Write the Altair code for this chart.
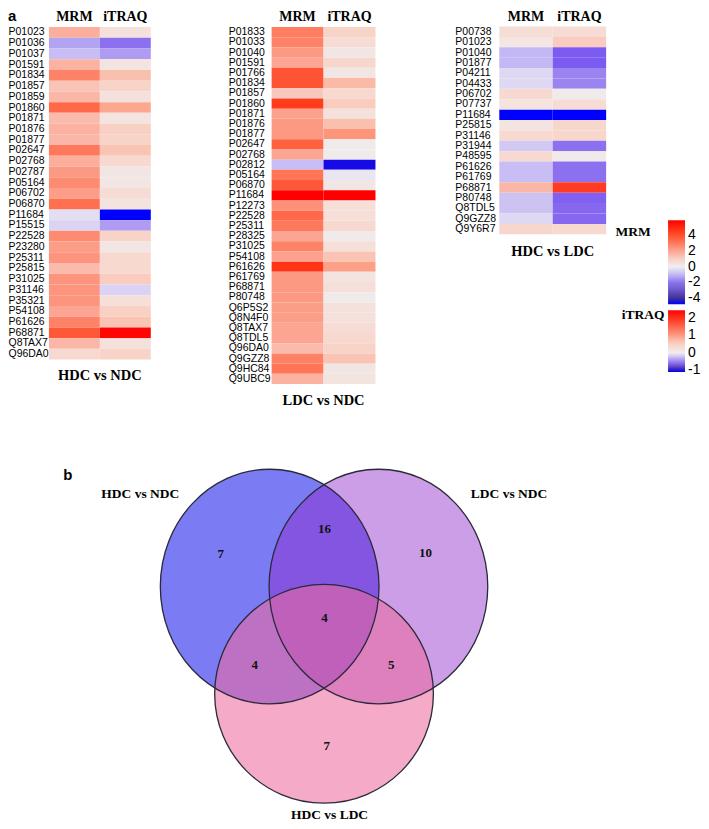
import altair as alt
import pandas as pd

SERIF = "Liberation Serif"
SANS = "Liberation Sans"

# ---------------- heatmap data ----------------
hn_proteins = ["P01023", "P01036", "P01037", "P01591", "P01834", "P01857", "P01859", "P01860",
               "P01871", "P01876", "P01877", "P02647", "P02768", "P02787", "P05164", "P06702",
               "P06870", "P11684", "P15515", "P22528", "P23280", "P25311", "P25815", "P31025",
               "P31146", "P35321", "P54108", "P61626", "P68871", "Q8TAX7", "Q96DA0"]
hn_mrm = [1.8, -1.3, -0.9, 1.7, 2.8, 1.3, 1.6, 3.4, 1.5, 1.7, 1.6, 3.0, 1.8, 2.3, 2.6, 2.2,
          3.2, -0.3, -0.5, 2.6, 2.2, 2.4, 1.5, 2.4, 2.4, 2.4, 2.0, 2.8, 3.8, 1.6, 0.7]
hn_itraq = [0.2, -0.6, -0.4, 0.15, 0.7, 0.45, 0.2, 0.9, 0.15, 0.5, 0.45, 0.65, 0.35, 0.1, 0.1, 0.3,
            0.15, -1.12, -0.4, 0.45, 0.1, 0.35, 0.35, 0.55, -0.15, 0.25, 0.5, 0.65, 2.4, 0.2, 0.45]

ln_proteins = ["P01833", "P01033", "P01040", "P01591", "P01766", "P01834", "P01857", "P01860",
               "P01871", "P01876", "P01877", "P02647", "P02768", "P02812", "P05164", "P06870",
               "P11684", "P12273", "P22528", "P25311", "P28325", "P31025", "P54108", "P61626",
               "P61769", "P68871", "P80748", "Q6P5S2", "Q8N4F0", "Q8TAX7", "Q8TDL5", "Q96DA0",
               "Q9GZZ8", "Q9HC84", "Q9UBC9"]
ln_mrm = [2.9, 2.8, 2.3, 2.0, 3.9, 3.9, 1.2, 4.5, 2.1, 2.3, 2.3, 3.6, 2.0, -0.9, 3.1, 3.8,
          5.9, 2.5, 3.4, 3.0, 2.0, 2.8, 2.1, 4.7, 2.3, 2.3, 2.3, 2.2, 2.2, 2.0, 2.0, 1.5,
          2.8, 3.1, 1.7]
ln_itraq = [0.45, 0.3, 0.1, 0.4, 0.1, 0.75, 0.35, 0.55, 0.2, 0.7, 1.05, 0.05, 0.05, -1.05, -0.05, 0.1,
            2.45, 0.25, 0.25, 0.35, 0.05, 0.25, 0.65, 0.95, 0.15, 0.25, 0.05, 0.2, 0.2, 0.3, 0.35, 0.45,
            0.65, 0.1, 0.15]

hl_proteins = ["P00738", "P01023", "P01040", "P01877", "P04211", "P04433", "P06702", "P07737",
               "P11684", "P25815", "P31146", "P31944", "P48595", "P61626", "P61769", "P68871",
               "P80748", "Q8TDL5", "Q9GZZ8", "Q9Y6R7"]
hl_mrm = [0.6, 0.3, -1.0, -1.0, -0.4, -0.4, 0.7, 0.4, -4.76, 0.35, 0.7, -0.7, 0.7, -0.9, -0.9, 1.6,
          -0.8, -0.8, -0.4, 0.8]
hl_itraq = [0.3, 0.55, -0.7, -0.7, -0.5, -0.5, 0.05, 0.3, -1.12, 0.4, 0.4, -0.6, 0.05, -0.6, -0.6, 1.9,
            -0.68, -0.64, -0.64, 0.35]

methods = ["MRM", "iTRAQ"]
panel_titles = ["HDC vs NDC", "LDC vs NDC", "HDC vs LDC"]

# colour scales (value -> colour stops)
mrm_domain = [-4.76, -4.3, -3.9, -3.0, -2.0, -1.0, 0.0, 0.5, 1.2, 1.8, 2.5, 3.2, 4.0, 4.8, 5.9]
mrm_colors = ["#0000ff", "#2818c8", "#4a3a88", "#6a56c8", "#8c74ec", "#c4b8f4", "#f0eef0", "#f6e0da",
              "#f9c8bc", "#fbae9c", "#fd9078", "#ff7050", "#ff5030", "#ff3010", "#ff0000"]
itraq_domain = [-1.12, -1.02, -0.92, -0.7, -0.5, -0.2, 0.0, 0.1, 0.3, 0.5, 0.7, 1.0, 1.9, 2.45]
itraq_colors = ["#0000ff", "#2010d8", "#4a3490", "#7c5cf0", "#9c84f0", "#d4caf4", "#f0eef0", "#f2e6e4",
                "#f6dcd4", "#f8d0c4", "#fac0ae", "#fd9a80", "#fe3c24", "#ff0000"]
mrm_ticks = [-4, -2, 0, 2, 4]
itraq_ticks = [-1, 0, 1, 2]

# ---------------- venn data ----------------
venn_sets = ["HDC vs NDC", "LDC vs NDC", "HDC vs LDC"]
venn_counts = [7, 16, 10, 4, 4, 5, 7]
venn_regions = ["HDC-NDC only", "HDC-NDC & LDC-NDC", "LDC-NDC only", "all three",
                "HDC-NDC & HDC-LDC", "LDC-NDC & HDC-LDC", "HDC-LDC only"]
venn_fill = ["rgba(123,123,243,1)", "rgba(142,40,204,0.45)", "rgba(238,105,158,0.57)"]

# geometry of the Venn diagram (in circle-radius units)
set_cx = [-0.495, 0.495, 0.0]
set_cy = [0.329, 0.329, -0.647]
region_x = [-0.941, 0.005, 0.923, 0.005, -0.632, 0.611, 0.025]
region_y = [0.621, 0.852, 0.639, 0.039, -0.385, -0.385, -1.127]
name_x = [-1.673, 1.684, 0.05]
name_y = [1.175, 1.175, -1.755]

# ---------------- layout (pixels inside the plot area) ----------------
W, H = 693, 813
panel_xrange = [[41, 143], [264, 368], [492, 599]]
panel_yrange = [[16.5, 349.5], [16.5, 374], [16, 224]]
panel_label_x = [0.5, 221, 448]
panel_title_xy = [(92, 365.5), (316, 390.5), (545.5, 242)]
header_y = 10.5

layers = []
data_sets = [(hn_proteins, hn_mrm, hn_itraq), (ln_proteins, ln_mrm, ln_itraq),
             (hl_proteins, hl_mrm, hl_itraq)]

for i, (prots, mrm, itraq) in enumerate(data_sets):
    df = pd.DataFrame({
        "protein": list(prots) * 2,
        "method": ["MRM"] * len(prots) + ["iTRAQ"] * len(prots),
        "value": list(mrm) + list(itraq),
    })
    xs = alt.Scale(domain=methods, range=panel_xrange[i], paddingInner=0, paddingOuter=0)
    ys = alt.Scale(domain=list(prots), range=panel_yrange[i], paddingInner=0, paddingOuter=0)
    xenc = alt.X("method:N", scale=xs, axis=None)
    yenc = alt.Y("protein:N", scale=ys, axis=None)
    base = alt.Chart(df)
    last = i == 2
    mrm_leg = alt.Legend(title=None, orient="none", legendX=661, legendY=210,
                         direction="vertical", gradientLength=84, gradientThickness=17,
                         values=mrm_ticks, labelFont=SANS, labelFontSize=14,
                         labelColor="black", labelOverlap=False, gradientStrokeWidth=0,
                         labelOffset=3, padding=0,
                         labelExpr="replace(datum.label, '\u2212', '-')") if last else None
    itraq_leg = alt.Legend(title=None, orient="none", legendX=661, legendY=300,
                           direction="vertical", gradientLength=62, gradientThickness=17,
                           values=itraq_ticks, labelFont=SANS, labelFontSize=14,
                           labelColor="black", labelOverlap=False, gradientStrokeWidth=0,
                           labelOffset=3, padding=0,
                           labelExpr="replace(datum.label, '\u2212', '-')") if last else None
    layers.append(base.transform_filter(alt.datum.method == "MRM").mark_rect().encode(
        x=xenc, y=yenc,
        color=alt.Color("value:Q", scale=alt.Scale(domain=mrm_domain, range=mrm_colors,
                                                   interpolate="rgb"), legend=mrm_leg)))
    layers.append(base.transform_filter(alt.datum.method == "iTRAQ").mark_rect().encode(
        x=xenc, y=yenc,
        color=alt.Color("value:Q", scale=alt.Scale(domain=itraq_domain, range=itraq_colors,
                                                   interpolate="rgb"), legend=itraq_leg)))
    # protein labels
    layers.append(base.transform_filter(alt.datum.method == "MRM").mark_text(
        font=SANS, fontSize=10.5, align="left", baseline="middle", color="black").encode(
        y=yenc, x=alt.value(panel_label_x[i]), text="protein:N"))
    # column headers
    layers.append(alt.Chart(pd.DataFrame({"method": methods})).mark_text(
        font=SERIF, fontWeight="bold", fontSize=14, baseline="alphabetic", color="black").encode(
        x=xenc, y=alt.value(header_y), text="method:N"))
    # panel title
    layers.append(alt.Chart(pd.DataFrame({"t": [panel_titles[i]]})).mark_text(
        font=SERIF, fontWeight="bold", fontSize=14.5, baseline="middle", color="black").encode(
        x=alt.value(panel_title_xy[i][0]), y=alt.value(panel_title_xy[i][1]), text="t:N"))

# panel tag and legend titles
layers.append(alt.Chart(pd.DataFrame({"t": ["a"]})).mark_text(
    font=SANS, fontWeight="bold", fontSize=15, align="left", baseline="alphabetic",
    color="black").encode(text="t:N", x=alt.value(0), y=alt.value(header_y)))
layers.append(alt.Chart(pd.DataFrame({"t": ["MRM"]})).mark_text(
    font=SERIF, fontWeight="bold", fontSize=13.5, baseline="middle", color="black").encode(
    text="t:N", x=alt.value(626), y=alt.value(222)))
layers.append(alt.Chart(pd.DataFrame({"t": ["iTRAQ"]})).mark_text(
    font=SERIF, fontWeight="bold", fontSize=13.5, baseline="middle", color="black").encode(
    text="t:N", x=alt.value(636), y=alt.value(305)))

# ---------------- venn ----------------
ellipse_path = "M -0.932 0 A 0.932 1 0 1 1 0.932 0 A 0.932 1 0 1 1 -0.932 0 Z"
circle_path = "M -0.932 0 A 0.932 0.932 0 1 1 0.932 0 A 0.932 0.932 0 1 1 -0.932 0 Z"

circ_df = pd.DataFrame({"set": venn_sets, "cx": set_cx, "cy": set_cy})
cnt_df = pd.DataFrame({"region": venn_regions, "count": venn_counts, "x": region_x, "y": region_y})
name_df = pd.DataFrame({"name": venn_sets, "x": name_x, "y": name_y})
tag_df = pd.DataFrame({"t": ["b"], "x": [-2.332], "y": [1.345]})

vx = alt.Scale(domain=[-2, 2], range=[96.5, 536.5], nice=False, zero=False)
vy = alt.Scale(domain=[-2, 2], range=[833, 393], nice=False, zero=False)
shape_enc = alt.Shape("set:N", scale=alt.Scale(domain=venn_sets,
                                               range=[ellipse_path, ellipse_path, circle_path]),
                      legend=None)

layers.append(alt.Chart(circ_df).mark_point(filled=True, strokeWidth=0, size=55225,
                                            opacity=1).encode(
    x=alt.X("cx:Q", scale=vx, axis=None),
    y=alt.Y("cy:Q", scale=vy, axis=None),
    shape=shape_enc,
    color=alt.Color("set:N", scale=alt.Scale(domain=venn_sets, range=venn_fill), legend=None),
))
layers.append(alt.Chart(circ_df).mark_point(filled=False, size=55225, strokeWidth=1.3,
                                            color="#2a2a3a", opacity=1).encode(
    x=alt.X("cx:Q", scale=vx, axis=None),
    y=alt.Y("cy:Q", scale=vy, axis=None),
    shape=shape_enc,
))
layers.append(alt.Chart(cnt_df).mark_text(font=SERIF, fontWeight="bold", fontSize=13,
                                          color="#111111").encode(
    x=alt.X("x:Q", scale=vx, axis=None), y=alt.Y("y:Q", scale=vy, axis=None),
    text="count:N"))
layers.append(alt.Chart(name_df).mark_text(font=SERIF, fontWeight="bold", fontSize=13.5,
                                           color="black").encode(
    x=alt.X("x:Q", scale=vx, axis=None), y=alt.Y("y:Q", scale=vy, axis=None),
    text="name:N"))
layers.append(alt.Chart(tag_df).mark_text(font=SANS, fontWeight="bold", fontSize=15,
                                          color="black").encode(
    x=alt.X("x:Q", scale=vx, axis=None), y=alt.Y("y:Q", scale=vy, axis=None),
    text="t:N"))

chart = alt.layer(*layers).resolve_scale(
    x="independent", y="independent", color="independent", shape="independent"
).properties(width=W, height=H, padding=0).configure_view(stroke=None)

chart.save("out.html", embed_options={"renderer": "svg", "actions": False})
